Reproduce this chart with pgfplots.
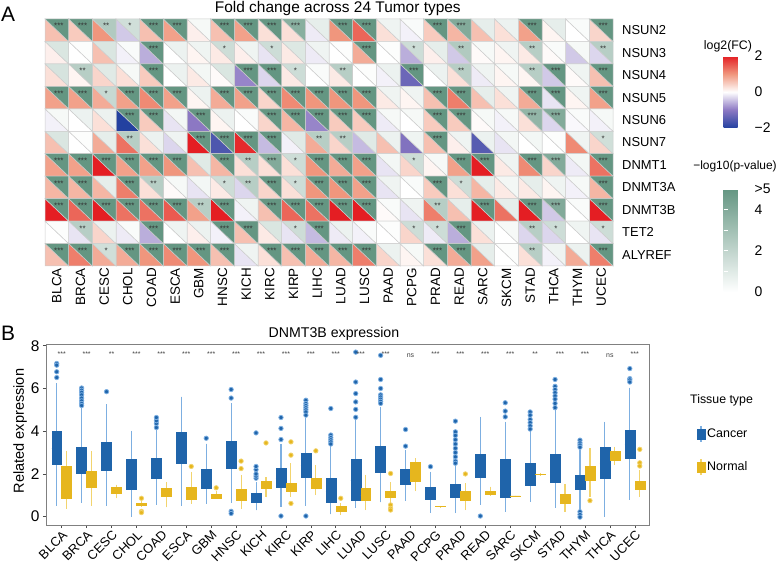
\documentclass[border=0pt]{standalone}
\usepackage{fontspec}
\setmainfont{Liberation Sans}
\usepackage{pgfplots}
\pgfplotsset{compat=1.18}
\usepackage{pgfplotstable}
\usepgfplotslibrary{statistics}

\definecolor{cblue}{RGB}{31,100,170}
\definecolor{cblueL}{RGB}{125,175,225}
\definecolor{cyel}{RGB}{230,182,30}
\definecolor{cyelL}{RGB}{242,212,110}
\definecolor{gridc}{RGB}{205,205,205}
\definecolor{framec}{RGB}{128,128,128}

\pgfplotsset{
  colormap={fcmap}{rgb255=(35,65,160) rgb255=(140,120,195) rgb255=(255,255,255) rgb255=(240,150,125) rgb255=(228,30,35)},
  colormap={pmap}{rgb255=(255,255,255) rgb255=(100,150,130)},
}

\pgfdeclareplotmark{lowtri}{%
  \pgfpathmoveto{\pgfpoint{-11.833bp}{11.227bp}}%
  \pgfpathlineto{\pgfpoint{-11.833bp}{-11.227bp}}%
  \pgfpathlineto{\pgfpoint{11.833bp}{-11.227bp}}%
  \pgfpathclose\pgfusepathqfillstroke}
\pgfdeclareplotmark{uptri}{%
  \pgfpathmoveto{\pgfpoint{-11.833bp}{11.227bp}}%
  \pgfpathlineto{\pgfpoint{11.833bp}{11.227bp}}%
  \pgfpathlineto{\pgfpoint{11.833bp}{-11.227bp}}%
  \pgfpathclose\pgfusepathqfillstroke}

\def\stn{}\def\sta{*}\def\stb{**}\def\stc{***}
\newcommand\fs[1]{\fontsize{#1}{#1}\selectfont}

\pgfplotsset{
  cbox/.style={forget plot, draw=cblue, fill=cblue, line width=0.4bp, mark=*, mark size=2.2bp,
    mark options={fill=cblue, draw=cblueL, line width=0.8bp},
    boxplot/every whisker/.style={draw=cblueL, line width=1.1bp},
    boxplot/every median/.style={draw=cblue}},
  nbox/.style={forget plot, draw=cyel, fill=cyel, line width=0.4bp, mark=*, mark size=2.2bp,
    mark options={fill=cyel, draw=cyelL, line width=0.8bp},
    boxplot/every whisker/.style={draw=cyelL, line width=1.1bp},
    boxplot/every median/.style={draw=cyel}},
}
\newcommand\BX[8]{\addplot[#1, boxplot prepared={draw position=#2, lower whisker=#3, lower quartile=#4, median=#5, upper quartile=#6, upper whisker=#7}] coordinates {#8};}

% x = tumor type (1..24), y = gene (11 = NSUN2 ... 1 = ALYREF), fc = log2(FC), p = -log10(p) capped at 5, s = stars
\pgfplotstableread{
x y fc p s
1 11 0.6 5 c
2 11 0.5 5 c
3 11 1.0 2.5 b
4 11 -0.4 1.5 a
5 11 0.6 5 c
6 11 0.9 5 c
7 11 0.15 0.3 n
8 11 0.6 5 c
9 11 0.9 5 c
10 11 0.3 5 c
11 11 0.3 3.8 c
12 11 -0.15 0.8 n
13 11 1.0 5 c
14 11 1.4 5 c
15 11 0.3 0.5 n
16 11 -0.1 0.2 n
17 11 0.5 5 c
18 11 0.7 4 c
19 11 0.6 0.8 n
20 11 0.3 0.6 n
21 11 0.9 5 c
22 11 0.1 0.8 n
23 11 0.0 0.2 n
24 11 0.4 5 c
1 10 0.15 1.2 n
2 10 0.0 0.1 n
3 10 0.6 1.2 n
4 10 -0.1 0.2 n
5 10 -0.6 5 c
6 10 0.0 0.6 n
7 10 0.1 0.5 n
8 10 0.2 1.6 a
9 10 0.15 0.5 n
10 10 -0.2 1.6 a
11 10 0.2 1.1 n
12 10 -0.15 0.5 n
13 10 0.0 0.1 n
14 10 0.8 5 c
15 10 0.0 0.1 n
16 10 -0.6 1.6 a
17 10 0.15 0.8 n
18 10 -0.4 2.5 b
19 10 0.05 0.3 n
20 10 0.1 0.5 n
21 10 0.2 2.3 b
22 10 0.05 0.2 n
23 10 -0.4 0.3 n
24 10 -0.3 2.3 b
1 9 0.3 1.3 n
2 9 0.1 2.3 b
3 9 0.4 1.0 n
4 9 0.3 0.3 n
5 9 0.5 5 c
6 9 0.0 0.6 n
7 9 0.2 0.4 n
8 9 0.05 1.2 n
9 9 -0.9 5 c
10 9 -0.3 5 c
11 9 0.2 1.6 a
12 9 0.0 0.2 n
13 9 0.2 2.3 b
14 9 0.0 0.1 n
15 9 -0.1 0.6 n
16 9 -1.3 5 c
17 9 0.0 0.6 n
18 9 0.3 2.3 b
19 9 -0.15 0.5 n
20 9 0.1 0.3 n
21 9 0.1 2.3 b
22 9 -0.4 5 c
23 9 0.05 0.5 n
24 9 0.6 5 c
1 8 0.9 5 c
2 8 0.9 5 c
3 8 0.8 1.8 a
4 8 0.9 5 c
5 8 1.1 5 c
6 8 0.9 5 c
7 8 0.1 0.6 n
8 8 0.8 5 c
9 8 0.9 5 c
10 8 0.4 5 c
11 8 1.1 5 c
12 8 1.0 5 c
13 8 1.0 5 c
14 8 1.0 5 c
15 8 0.2 0.5 n
16 8 0.1 0.5 n
17 8 0.6 5 c
18 8 1.2 5 c
19 8 0.6 0.8 n
20 8 0.3 0.5 n
21 8 0.8 5 c
22 8 -0.2 5 c
23 8 0.1 0.5 n
24 8 0.9 5 c
1 7 -0.1 0.3 n
2 7 0.0 0.6 n
3 7 0.3 0.6 n
4 7 -2.0 5 c
5 7 0.5 5 c
6 7 -0.2 0.4 n
7 7 -1.0 5 c
8 7 0.1 0.6 n
9 7 0.0 0.2 n
10 7 0.4 5 c
11 7 0.7 5 c
12 7 -0.9 5 c
13 7 0.5 5 c
14 7 0.5 5 c
15 7 -0.15 0.3 n
16 7 0.0 0.3 n
17 7 0.5 5 c
18 7 0.5 5 c
19 7 0.05 0.3 n
20 7 -0.1 0.3 n
21 7 0.3 3.5 c
22 7 -0.3 4 c
23 7 -0.05 0.2 n
24 7 -0.1 0.3 n
1 6 0.6 1.2 n
2 6 0.0 0.1 n
3 6 0.8 0.8 n
4 6 1.3 2.3 b
5 6 0.3 0.6 n
6 6 -0.3 0.5 n
7 6 2.0 5 c
8 6 -1.6 5 c
9 6 1.9 5 c
10 6 -0.5 5 c
11 6 -0.1 1.0 n
12 6 0.8 2.3 b
13 6 0.4 2.3 b
14 6 -0.5 1.0 n
15 6 0.6 0.6 n
16 6 -1.1 0.5 n
17 6 0.6 5 c
18 6 0.15 0.5 n
19 6 -1.5 0.6 n
20 6 -0.2 0.4 n
21 6 0.0 0.4 n
22 6 0.0 0.1 n
23 6 1.1 0.5 n
24 6 0.4 1.5 a
1 5 0.9 5 c
2 5 0.9 5 c
3 5 2.0 5 c
4 5 0.9 5 c
5 5 0.9 5 c
6 5 1.0 5 c
7 5 0.6 1.0 n
8 5 0.7 5 c
9 5 0.3 2.3 b
10 5 0.3 4 c
11 5 0.3 1.6 a
12 5 1.0 5 c
13 5 0.8 5 c
14 5 0.9 5 c
15 5 -0.2 0.4 n
16 5 0.4 1.6 a
17 5 0.1 0.3 n
18 5 0.9 5 c
19 5 2.0 5 c
20 5 0.2 0.5 n
21 5 1.1 5 c
22 5 0.4 4 c
23 5 -0.15 0.4 n
24 5 1.3 5 c
1 4 0.7 5 c
2 4 0.7 5 c
3 4 0.7 0.8 n
4 4 1.2 5 c
5 4 0.3 2.3 b
6 4 0.05 0.3 n
7 4 -0.2 0.4 n
8 4 0.2 1.6 a
9 4 -0.3 2.3 b
10 4 0.4 5 c
11 4 0.3 1.6 a
12 4 1.0 5 c
13 4 1.0 5 c
14 4 0.9 5 c
15 4 -0.2 0.5 n
16 4 0.0 0.2 n
17 4 0.5 5 c
18 4 0.3 1.6 a
19 4 0.7 0.8 n
20 4 0.2 0.4 n
21 4 0.2 0.8 n
22 4 0.1 0.5 n
23 4 -0.1 0.3 n
24 4 0.7 5 c
1 3 2.0 5 c
2 3 1.4 5 c
3 3 2.0 5 c
4 3 1.3 5 c
5 3 1.3 5 c
6 3 1.5 5 c
7 3 0.9 2.3 b
8 3 2.0 5 c
9 3 -0.1 0.5 n
10 3 0.6 5 c
11 3 1.4 5 c
12 3 1.3 5 c
13 3 2.0 5 c
14 3 2.0 5 c
15 3 0.05 0.2 n
16 3 -0.2 0.5 n
17 3 1.2 2.3 b
18 3 0.6 0.8 n
19 3 2.0 5 c
20 3 1.3 0.8 n
21 3 2.0 5 c
22 3 -0.4 4 c
23 3 0.0 0.2 n
24 3 2.0 5 c
1 2 0.0 0.1 n
2 2 -0.2 2.3 b
3 2 0.4 0.6 n
4 2 -0.15 0.2 n
5 2 -0.6 5 c
6 2 0.0 0.5 n
7 2 0.15 0.6 n
8 2 -0.1 5 c
9 2 0.6 5 c
10 2 0.2 1.2 n
11 2 -0.2 1.6 a
12 2 -0.5 5 c
13 2 -0.15 0.6 n
14 2 -0.1 0.2 n
15 2 0.0 0.1 n
16 2 0.4 1.6 a
17 2 -0.15 1.6 a
18 2 -0.6 5 c
19 2 0.3 0.6 n
20 2 0.0 0.3 n
21 2 -0.3 2.3 b
22 2 -0.3 1.6 a
23 2 0.0 0.5 n
24 2 -0.2 1.6 a
1 1 0.6 5 c
2 1 1.2 5 c
3 1 0.8 1.5 a
4 1 0.8 5 c
5 1 1.0 5 c
6 1 1.1 5 c
7 1 1.0 5 c
8 1 0.6 5 c
9 1 -0.2 0.5 n
10 1 0.3 5 c
11 1 0.6 5 c
12 1 0.8 5 c
13 1 0.7 5 c
14 1 1.2 5 c
15 1 0.4 0.6 n
16 1 0.1 0.3 n
17 1 0.3 5 c
18 1 0.8 5 c
19 1 0.9 0.8 n
20 1 0.0 0.1 n
21 1 0.3 2.3 b
22 1 -0.1 0.5 n
23 1 0.8 0.6 n
24 1 1.2 5 c
}\heat

\pgfplotstableread{
x y s
1 7.62 ***
2 7.62 ***
3 7.62 **
4 7.62 ***
5 7.62 ***
6 7.62 ***
7 7.62 ***
8 7.62 ***
9 7.62 ***
10 7.62 ***
11 7.62 ***
12 7.62 ***
13 7.62 ***
14 7.62 ***
15 7.55 ns
16 7.62 ***
17 7.62 ***
18 7.62 ***
19 7.62 ***
20 7.62 **
21 7.62 ***
22 7.62 ***
23 7.55 ns
24 7.62 ***
}\bstars

\begin{document}
\begin{tikzpicture}
\path[use as bounding box] (0,0) rectangle (777bp,562bp);

% ---------- Panel A: log2(FC) triangles ----------
\begin{axis}[
  at={(45bp,296bp)}, anchor=south west, scale only axis, width=568bp, height=247bp,
  xmin=0.5, xmax=24.5, ymin=0.5, ymax=11.5, clip=false,
  axis line style={draw=none}, major tick length=0pt,
  xtick={1,...,24},
  xticklabels={BLCA,BRCA,CESC,CHOL,COAD,ESCA,GBM,HNSC,KICH,KIRC,KIRP,LIHC,LUAD,LUSC,PAAD,PCPG,PRAD,READ,SARC,SKCM,STAD,THCA,THYM,UCEC},
  ytick={1,...,11},
  yticklabels={ALYREF,TET2,DNMT3B,DNMT3A,DNMT1,NSUN7,NSUN6,NSUN5,NSUN4,NSUN3,NSUN2},
  yticklabel pos=right,
  xticklabel style={rotate=90, anchor=east, font=\fs{13.5}, inner sep=2bp},
  yticklabel style={anchor=west, font=\fs{13}, inner sep=0pt, xshift=9bp},
  title={Fold change across 24 Tumor types},
  title style={at={(0.5155,1)}, anchor=base, yshift=1bp, font=\fs{15.5}},
  colormap name=fcmap, point meta min=-2, point meta max=2,
  colorbar,
  colorbar style={
    at={(parent axis.north east)}, anchor=north west, xshift=102bp, yshift=-37bp,
    scale only axis, width=24bp, height=72bp, axis on top,
    axis line style={draw=none},
    ytick={-2,0,2}, yticklabels={−2,0,2},
    ytick pos=both, yticklabel pos=right,
    tick align=inside, major tick length=4.5bp,
    ytick style={draw=white, line width=0.8bp},
    yticklabel style={font=\fs{14}, anchor=west, inner sep=0pt, xshift=7bp},
  },
]
\addplot[scatter, only marks, mark=lowtri, line width=0.5bp,
  scatter/use mapped color={draw=gridc, fill=mapped color},
  point meta=\thisrow{fc}] table[x=x, y=y] {\heat};
\end{axis}

% ---------- Panel A: -log10(p) triangles + stars ----------
\begin{axis}[
  at={(45bp,296bp)}, anchor=south west, scale only axis, width=568bp, height=247bp,
  xmin=0.5, xmax=24.5, ymin=0.5, ymax=11.5, clip=false,
  axis line style={draw=none}, xtick=\empty, ytick=\empty,
  colormap name=pmap, point meta min=0, point meta max=5,
  colorbar,
  colorbar style={
    at={(parent axis.north east)}, anchor=north west, xshift=102bp, yshift=-170bp,
    scale only axis, width=24bp, height=103bp, axis on top,
    axis line style={draw=none},
    ytick={0,1,2,3,4,5}, yticklabels={0,,2,,4,{>5}},
    ytick pos=both, yticklabel pos=right,
    tick align=inside, major tick length=4.5bp,
    ytick style={draw=white, line width=0.8bp},
    yticklabel style={font=\fs{14}, anchor=west, inner sep=0pt, xshift=7bp},
  },
]
\addplot[scatter, only marks, mark=uptri, line width=0.5bp,
  scatter/use mapped color={draw=gridc, fill=mapped color},
  point meta=\thisrow{p}] table[x=x, y=y] {\heat};
\addplot[only marks, mark=none, point meta=explicit symbolic,
  nodes near coords={\csname st\pgfplotspointmeta\endcsname},
  every node near coord/.append style={anchor=center, inner sep=0pt, xshift=2bp, yshift=4bp, font=\fs{8}, text=black!80}
  ] table[x=x, y=y, meta=s] {\heat};
\end{axis}

% ---------- Panel B: boxplots ----------
\begin{axis}[
  at={(46bp,37bp)}, anchor=south west, scale only axis, width=603bp, height=181bp,
  xmin=0.37, xmax=24.57, ymin=-0.39, ymax=8.08,
  axis line style={draw=framec, line width=0.9bp},
  tick pos=left, tick align=outside, major tick length=3bp,
  tick style={draw=black!70, line width=0.6bp},
  xtick={1,...,24},
  xticklabels={BLCA,BRCA,CESC,CHOL,COAD,ESCA,GBM,HNSC,KICH,KIRC,KIRP,LIHC,LUAD,LUSC,PAAD,PCPG,PRAD,READ,SARC,SKCM,STAD,THYM,THCA,UCEC},
  xticklabel style={rotate=45, anchor=north east, font=\fs{13}, inner sep=1bp},
  ytick={0,2,4,6,8},
  yticklabel style={font=\fs{15.5}},
  /pgf/number format/assume math mode=true,
  ylabel={Related expression},
  ylabel style={at={(rel axis cs:-0.043,0.519)}, anchor=center, font=\fs{14.6}},
  title={DNMT3B expression},
  title style={at={(0.4776,1)}, anchor=base, yshift=1bp, font=\fs{14.2}},
  boxplot/draw direction=y,
  boxplot/box extend=0.4, boxplot/whisker extend=0,
  legend style={at={(1.079,0.4116)}, anchor=west, draw=none, fill=none, font=\fs{12.5}, row sep=16bp, inner sep=0pt},
  legend cell align=left,
]
\addlegendimage{legend image code/.code={\draw[cblueL, line width=1.3bp] (4bp,-8bp)--(4bp,8bp); \fill[cblue] (0bp,-5bp) rectangle (8bp,5bp);}}
\addlegendentry{Cancer}
\addlegendimage{legend image code/.code={\draw[cyelL, line width=1.3bp] (4bp,-8bp)--(4bp,8bp); \fill[cyel] (0bp,-5bp) rectangle (8bp,5bp);}}
\addlegendentry{Normal}

\BX{cbox}{0.8}{0.5}{2.45}{3.2}{4.02}{6.25}{(0,7.17)(0,7.09)(0,6.78)(0,6.51)}
\BX{nbox}{1.2}{0.36}{0.88}{1.6}{2.34}{3.08}{}
\BX{cbox}{1.8}{0.65}{2.02}{2.6}{3.24}{5.1}{(0,6.02)(0,5.92)(0,5.82)(0,5.7)(0,5.55)(0,5.42)(0,5.3)(0,5.2)}
\BX{nbox}{2.2}{0.51}{1.4}{1.8}{2.15}{3.05}{}
\BX{cbox}{2.8}{0.51}{2.18}{2.8}{3.5}{5.25}{(0,5.85)}
\BX{nbox}{3.2}{0.86}{1.1}{1.25}{1.4}{1.5}{}
\BX{cbox}{3.8}{0.0}{1.3}{2.0}{2.7}{4.02}{}
\BX{nbox}{4.2}{0.45}{0.52}{0.58}{0.65}{0.75}{(0,0.86)(0,0.25)(0,0.19)}
\BX{cbox}{4.8}{0.56}{1.8}{2.2}{2.75}{4.05}{(0,4.17)(0,4.36)(0,4.49)(0,4.64)}
\BX{nbox}{5.2}{0.43}{0.95}{1.1}{1.35}{1.6}{}
\BX{cbox}{5.8}{0.5}{2.5}{3.2}{3.93}{5.62}{}
\BX{nbox}{6.2}{0.6}{0.8}{1.0}{1.4}{2.1}{(0,2.35)}
\BX{cbox}{6.8}{0.6}{1.35}{1.7}{2.2}{3.42}{(0,3.67)}
\BX{nbox}{7.2}{0.85}{0.88}{0.95}{1.05}{1.2}{(0,1.35)}
\BX{cbox}{7.8}{0.65}{2.27}{2.9}{3.52}{5.3}{(0,5.55)(0,5.95)(0,0.25)(0,0.15)}
\BX{nbox}{8.2}{0.35}{0.75}{1.0}{1.3}{1.95}{(0,2.25)(0,2.6)}
\BX{cbox}{8.8}{0.3}{0.68}{0.85}{1.1}{1.6}{(0,1.8)(0,1.9)(0,2.0)(0,2.2)(0,2.35)(0,3.92)}
\BX{nbox}{9.2}{0.9}{1.32}{1.5}{1.68}{1.85}{(0,3.45)}
\BX{cbox}{9.8}{0.47}{1.4}{1.8}{2.26}{3.4}{(0,4.64)(0,4.13)(0,3.61)(0,0.03)}
\BX{nbox}{10.2}{0.93}{1.2}{1.4}{1.56}{2.5}{(0,3.5)(0,2.88)(0,0.62)}
\BX{cbox}{10.8}{0.51}{1.87}{2.4}{2.99}{4.6}{(0,5.45)(0,5.3)(0,5.2)(0,5.1)(0,5.0)(0,4.9)(0,4.75)(0,0.03)}
\BX{nbox}{11.2}{1.01}{1.32}{1.55}{1.79}{2.41}{(0,3.08)}
\BX{cbox}{11.8}{0.11}{0.67}{1.2}{1.79}{3.3}{(0,5.06)(0,3.82)(0,3.7)(0,3.6)(0,3.5)(0,3.4)}
\BX{nbox}{12.2}{0.08}{0.26}{0.35}{0.47}{0.62}{(0,0.86)}
\BX{cbox}{12.8}{0.42}{0.78}{1.7}{2.69}{4.6}{(0,7.7)(0,6.3)(0,5.76)(0,5.37)(0,5.02)(0,4.65)}
\BX{nbox}{13.2}{0.31}{0.78}{1.0}{1.32}{1.95}{}
\BX{cbox}{13.8}{0.67}{2.1}{2.7}{3.3}{5.14}{(0,7.55)(0,6.42)(0,6.0)(0,5.7)(0,5.6)(0,5.5)(0,5.4)(0,5.3)}
\BX{nbox}{14.2}{0.62}{0.93}{1.05}{1.21}{1.6}{(0,2.02)(0,0.55)(0,0.39)(0,0.31)}
\BX{cbox}{14.8}{0.75}{1.53}{1.9}{2.21}{3.1}{(0,4.08)(0,3.3)}
\BX{nbox}{15.2}{1.2}{1.64}{2.1}{2.54}{2.73}{}
\BX{cbox}{15.8}{0.19}{0.81}{1.1}{1.4}{2.1}{(0,2.34)}
\BX{nbox}{16.2}{0.46}{0.47}{0.48}{0.49}{0.5}{}
\BX{cbox}{16.8}{0.16}{0.93}{1.2}{1.53}{2.4}{(0,4.47)(0,3.97)(0,3.8)(0,3.6)(0,3.4)(0,3.2)(0,3.0)(0,2.8)(0,2.6)(0,2.5)}
\BX{nbox}{17.2}{0.31}{0.75}{0.95}{1.17}{1.56}{(0,2.0)}
\BX{cbox}{17.8}{0.56}{1.87}{2.4}{2.91}{4.67}{(0,0.03)}
\BX{nbox}{18.2}{0.98}{1.03}{1.1}{1.2}{1.4}{}
\BX{cbox}{18.8}{0.23}{0.93}{1.8}{2.71}{4.44}{(0,5.33)(0,4.94)(0,4.67)}
\BX{nbox}{19.2}{0.95}{0.96}{0.97}{0.98}{0.99}{}
\BX{cbox}{19.8}{0.7}{1.48}{2.0}{2.52}{4.05}{(0,4.9)(0,4.75)(0,4.55)(0,4.4)(0,4.25)(0,4.1)}
\BX{nbox}{20.2}{1.95}{1.97}{1.99}{2.01}{2.05}{}
\BX{cbox}{20.8}{0.42}{1.62}{2.2}{2.93}{4.98}{(0,6.42)(0,6.1)(0,5.95)(0,5.8)(0,5.65)(0,5.5)(0,5.3)(0,5.1)}
\BX{nbox}{21.2}{0.23}{0.65}{0.85}{1.04}{1.53}{}
\BX{cbox}{21.8}{0.31}{1.28}{1.55}{1.93}{3.12}{(0,3.58)(0,3.45)(0,3.35)(0,3.25)(0,0.23)(0,0.1)(0,-0.02)}
\BX{nbox}{22.2}{0.93}{1.71}{2.0}{2.35}{3.19}{(0,0.75)}
\BX{cbox}{22.8}{0.0}{1.78}{2.5}{3.24}{4.44}{}
\BX{nbox}{23.2}{2.41}{2.65}{2.85}{3.05}{3.27}{}
\BX{cbox}{23.8}{0.78}{2.74}{3.4}{4.05}{6.04}{(0,6.93)(0,6.46)(0,6.4)(0,6.3)}
\BX{nbox}{24.2}{0.93}{1.28}{1.45}{1.68}{2.18}{(0,3.15)(0,2.52)(0,2.37)}

\addplot[forget plot, only marks, mark=none, point meta=explicit symbolic, nodes near coords,
  every node near coord/.append style={anchor=center, font=\fs{7}, text=black!75, inner sep=0pt}]
  table[x=x, y=y, meta=s] {\bstars};
\end{axis}

% ---------- free text ----------
\node[anchor=base west, inner sep=0pt, font=\fs{21}] at (1bp,540.5bp) {A};
\node[anchor=base west, inner sep=0pt, font=\fs{21}] at (1bp,221bp) {B};
\node[anchor=base, inner sep=0pt, font=\fs{12.4}] at (728bp,512bp) {log2(FC)};
\node[anchor=base, inner sep=0pt, font=\fs{12}] at (735bp,392bp) {−log10(p-value)};
\node[anchor=base west, inner sep=0pt, font=\fs{12.4}] at (690bp,158bp) {Tissue type};
\end{tikzpicture}
\end{document}
